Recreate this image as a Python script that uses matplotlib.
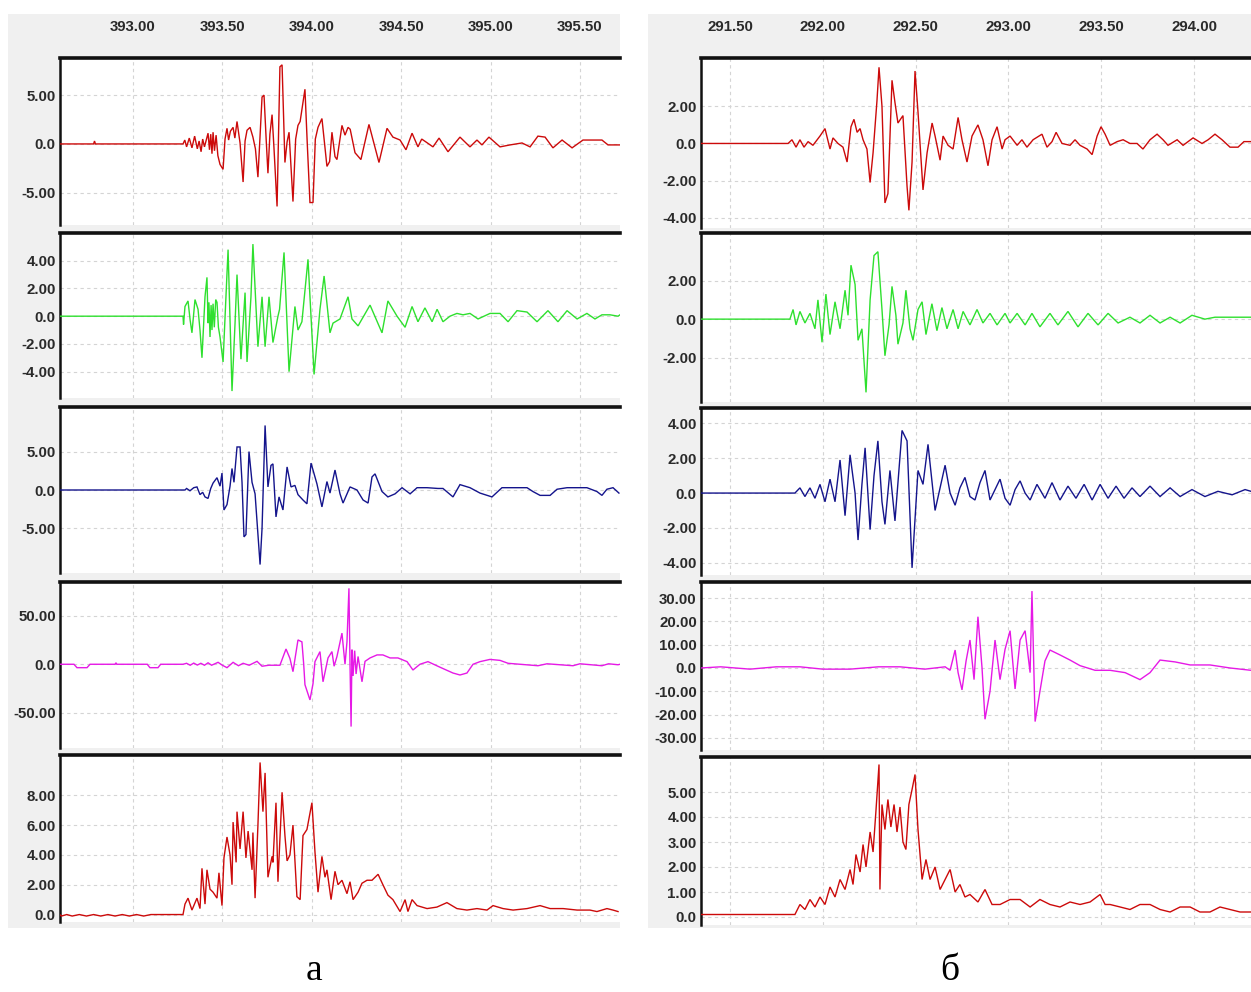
import matplotlib
matplotlib.use("Agg")
import matplotlib.pyplot as plt
from matplotlib.patches import Rectangle

# ---------------- data (time, amplitude) ----------------
# Left panel (a)
L1 = [(392.59,0),(392.78,0),(392.785,0.3),(392.79,0),(393.28,0),
(393.29,0.4),(393.30,-0.3),(393.315,0.6),(393.33,-0.4),(393.345,0.8),(393.36,-0.5),(393.37,0.3),(393.381,-0.8),(393.39,0.5),(393.40,-0.3),(393.42,1.1),(393.428,-0.6),(393.435,1.0),(393.442,-1.0),(393.448,1.2),(393.456,-0.7),(393.465,0.9),(393.475,-1.2),(393.487,-2.1),(393.504,-2.6),(393.515,0.5),(393.526,1.6),(393.535,0.4),(393.545,1.3),(393.560,1.7),(393.570,0.6),(393.582,2.3),(393.599,0.1),(393.616,-3.9),(393.627,0.3),(393.638,1.4),(393.655,1.7),(393.671,0.7),(393.685,-0.5),(393.699,-3.4),(393.710,0.5),(393.722,4.8),(393.733,5.0),(393.745,0.5),(393.755,-3.0),(393.766,1.0),(393.778,3.0),(393.789,-0.5),(393.806,-6.4),(393.822,7.9),(393.834,8.1),(393.850,-1.9),(393.862,0.2),(393.873,1.2),(393.895,-5.9),(393.910,0.5),(393.923,1.9),(393.935,2.3),(393.962,5.6),(393.975,0.0),(393.990,-6.0),(394.007,-6.0),(394.020,0.5),(394.035,1.7),(394.057,2.6),(394.085,-2.3),(394.100,-1.8),(394.113,1.2),(394.130,-1.3),(394.141,-1.6),(394.169,1.9),(394.186,0.9),(394.203,1.7),(394.215,1.5),(394.242,-0.9),(394.275,-1.6),(394.320,2.0),(394.376,-1.9),(394.421,1.6),(394.454,0.7),(394.494,0.4),(394.527,-0.6),(394.561,1.1),(394.594,-0.3),(394.615,0.5),(394.639,0.2),(394.678,-0.3),(394.712,0.6),(394.762,-0.8),(394.829,0.7),(394.885,-0.3),(394.924,0.4),(394.952,-0.1),(394.991,0.7),(395.053,-0.3),(395.109,-0.1),(395.176,0.1),(395.221,-0.3),(395.265,0.8),(395.305,0.7),(395.349,-0.4),(395.400,0.4),(395.456,-0.4),(395.517,0.4),(395.556,0.4),(395.623,0.4),(395.657,-0.1),(395.724,-0.1)]

L2 = [(392.59,0),(393.28,0),(393.283,-0.6),(393.291,0.7),(393.308,1.1),(393.320,-0.3),(393.330,-1.2),(393.347,1.2),(393.364,0.5),(393.375,-1.0),(393.386,-3.0),(393.403,1.4),(393.414,2.8),(393.420,-0.5),(393.425,1.0),(393.431,-1.5),(393.437,0.8),(393.442,-1.0),(393.448,0.9),(393.455,-0.8),(393.463,1.2),(393.470,1.0),(393.478,-0.8),(393.487,-1.5),(393.504,-3.3),(393.526,3.1),(393.532,4.8),(393.554,-5.4),(393.571,-0.5),(393.582,3.0),(393.604,-3.1),(393.627,1.7),(393.638,-3.3),(393.660,1.4),(393.671,5.2),(393.699,-2.2),(393.722,1.4),(393.739,-2.2),(393.761,1.4),(393.783,-1.9),(393.811,0.0),(393.820,0.5),(393.845,4.6),(393.873,-4.0),(393.906,0.7),(393.923,-1.0),(393.945,-0.4),(393.979,4.1),(394.013,-4.2),(394.046,0.5),(394.069,2.9),(394.102,-1.2),(394.119,-0.5),(394.158,-0.2),(394.203,1.4),(394.225,-0.2),(394.259,-0.7),(394.326,0.8),(394.393,-1.2),(394.426,1.1),(394.477,0.0),(394.522,-0.8),(394.561,0.7),(394.594,-0.4),(394.633,0.6),(394.673,-0.4),(394.701,0.5),(394.734,-0.4),(394.773,0.0),(394.812,0.2),(394.846,0.1),(394.885,0.2),(394.930,-0.2),(394.997,0.2),(395.053,0.2),(395.098,-0.4),(395.148,0.4),(395.204,0.3),(395.260,-0.4),(395.321,0.4),(395.377,-0.4),(395.428,0.4),(395.484,-0.2),(395.539,0.2),(395.584,-0.2),(395.623,0.1),(395.668,0.1),(395.713,0.0),(395.724,0.1)]

L3 = [(392.59,0),(393.291,0),(393.30,0.2),(393.319,-0.1),(393.340,0.3),(393.358,0.4),(393.375,-0.6),(393.390,-0.3),(393.403,-0.9),(393.420,-1.1),(393.435,0.2),(393.448,0.9),(393.470,1.6),(393.487,0.5),(393.498,2.2),(393.509,-2.6),(393.526,-1.9),(393.543,0.5),(393.554,2.8),(393.565,1.0),(393.582,5.6),(393.599,5.6),(393.610,1.0),(393.621,-6.1),(393.632,-5.8),(393.649,5.0),(393.666,1.0),(393.683,-0.5),(393.711,-9.7),(393.722,-5.0),(393.739,8.4),(393.755,0.4),(393.772,3.2),(393.783,3.4),(393.800,-3.5),(393.817,-0.9),(393.839,-2.6),(393.862,3.0),(393.884,0.4),(393.906,0.6),(393.923,-0.6),(393.951,-1.3),(393.973,-1.8),(393.996,3.5),(394.029,0.8),(394.057,-2.2),(394.085,1.1),(394.102,-0.4),(394.130,2.6),(394.158,-0.5),(394.175,-1.7),(394.214,0.4),(394.253,0.0),(394.287,-1.3),(394.315,-1.7),(394.337,1.7),(394.354,2.1),(394.393,-0.2),(394.426,-0.9),(394.466,-0.5),(394.505,0.3),(394.550,-0.5),(394.589,0.3),(394.645,0.3),(394.706,0.2),(394.734,0.2),(394.790,-0.9),(394.829,0.7),(394.885,0.3),(394.941,-0.4),(395.008,-0.9),(395.064,0.3),(395.148,0.3),(395.204,0.3),(395.237,-0.2),(395.277,-0.7),(395.333,-0.7),(395.372,0.1),(395.428,0.3),(395.539,0.3),(395.595,-0.2),(395.623,-0.7),(395.651,0.1),(395.685,0.3),(395.718,-0.4)]

L4 = [(392.59,0),(392.67,0),(392.687,-3.5),(392.743,-3.5),(392.76,0),(392.90,0),(392.905,1.5),(392.91,0),(393.08,0),(393.095,-3.5),(393.140,-3.5),(393.155,0),(393.28,0),(393.30,1.0),(393.32,-1.0),(393.34,1.2),(393.36,-0.8),(393.38,1.0),(393.40,-1.0),(393.42,1.5),(393.44,-1.0),(393.476,2.0),(393.500,-1.0),(393.526,-3.5),(393.560,2.0),(393.590,-1.5),(393.616,1.0),(393.650,-1.0),(393.694,3.0),(393.722,-2.0),(393.760,-1.0),(393.822,-1.0),(393.856,15.7),(393.878,6.0),(393.895,-7.6),(393.923,25),(393.945,23),(393.955,0),(393.962,-21),(393.990,-36.6),(394.007,-20),(394.018,2.7),(394.046,13),(394.063,-18),(394.091,6.5),(394.113,13),(394.125,-2),(394.141,8),(394.169,32),(394.186,0),(394.197,23),(394.208,78),(394.214,0),(394.220,-64),(394.225,15),(394.231,-12),(394.240,14),(394.248,-10),(394.259,8),(394.281,-18),(394.298,3),(394.326,6.5),(394.365,9.6),(394.398,9.6),(394.438,6.5),(394.482,6.5),(394.533,2.7),(394.566,-5.9),(394.605,0),(394.650,2.7),(394.717,-3),(394.790,-9),(394.829,-11),(394.868,-9),(394.902,0),(394.941,2.7),(394.997,5),(395.053,4),(395.098,1),(395.165,0),(395.265,-1.5),(395.316,0.5),(395.461,-1.5),(395.50,0.5),(395.623,-1.5),(395.66,0.5),(395.713,-0.5),(395.724,0)]

L5 = [(392.59,0),(392.60,-0.1),(392.63,0.0),(392.66,-0.1),(392.70,0.0),(392.74,-0.1),(392.78,0.0),(392.82,-0.1),(392.86,0.0),(392.90,-0.1),(392.94,0.0),(392.98,-0.1),(393.02,0.0),(393.06,-0.1),(393.10,0.0),(393.15,0.0),(393.28,0.0),(393.291,0.7),(393.308,1.1),(393.330,0.3),(393.358,1.1),(393.375,0.4),(393.386,3.1),(393.403,0.7),(393.414,3.0),(393.431,1.7),(393.448,1.5),(393.470,1.1),(393.481,2.8),(393.498,0.6),(393.509,3.8),(393.526,5.2),(393.543,4.0),(393.554,2.0),(393.560,6.2),(393.577,3.5),(393.582,6.9),(393.599,4.4),(393.616,6.9),(393.632,3.8),(393.644,5.6),(393.666,3.0),(393.671,5.5),(393.683,1.1),(393.699,6.0),(393.711,10.2),(393.727,6.9),(393.739,9.5),(393.755,2.5),(393.778,3.9),(393.783,3.5),(393.800,7.5),(393.811,2.2),(393.834,8.2),(393.850,5.3),(393.862,3.6),(393.878,4.0),(393.895,6.0),(393.917,1.2),(393.935,1.0),(393.951,5.3),(393.973,5.7),(394.001,7.5),(394.018,4.2),(394.035,1.5),(394.057,3.9),(394.074,2.5),(394.085,3.0),(394.108,1.0),(394.130,2.9),(394.147,2.0),(394.169,2.3),(394.197,1.4),(394.214,2.2),(394.231,1.0),(394.259,1.5),(394.281,2.1),(394.309,2.3),(394.337,2.3),(394.371,2.7),(394.398,2.0),(394.426,1.3),(394.454,1.0),(394.494,0.2),(394.522,1.0),(394.538,0.2),(394.561,1.0),(394.589,0.6),(394.645,0.4),(394.700,0.5),(394.756,0.8),(394.812,0.4),(394.868,0.3),(394.924,0.4),(394.980,0.3),(395.014,0.6),(395.070,0.4),(395.126,0.3),(395.204,0.4),(395.277,0.6),(395.333,0.4),(395.406,0.4),(395.484,0.3),(395.556,0.3),(395.595,0.2),(395.651,0.4),(395.685,0.3),(395.713,0.2)]

# Right panel (б)
R1 = [(291.344,0),(291.813,0),(291.834,0.2),(291.856,-0.2),(291.877,0.2),(291.899,-0.2),(291.921,0.1),(291.947,-0.1),(291.985,0.4),(292.012,0.8),(292.039,-0.3),(292.055,0.3),(292.082,0.0),(292.109,-0.2),(292.131,-1.0),(292.152,0.9),(292.168,1.3),(292.185,0.6),(292.201,0.8),(292.217,0.2),(292.238,-0.3),(292.255,-2.1),(292.271,-0.5),(292.292,2.3),(292.303,4.1),(292.319,2.0),(292.335,-3.2),(292.351,-2.7),(292.373,3.4),(292.389,2.2),(292.405,1.1),(292.432,1.5),(292.454,-2.3),(292.464,-3.6),(292.481,-1.0),(292.497,3.9),(292.513,1.7),(292.540,-2.5),(292.562,-0.5),(292.589,1.1),(292.605,0.4),(292.632,-0.9),(292.648,0.4),(292.675,-0.1),(292.702,-0.3),(292.729,1.4),(292.750,0.2),(292.777,-1.0),(292.804,0.4),(292.836,1.0),(292.863,0.2),(292.890,-1.2),(292.912,0.2),(292.939,0.9),(292.966,-0.3),(292.982,0.2),(293.009,0.4),(293.047,-0.1),(293.073,0.2),(293.100,-0.2),(293.133,0.2),(293.181,0.5),(293.208,-0.2),(293.235,0.1),(293.257,0.6),(293.289,0.0),(293.332,-0.1),(293.359,0.2),(293.386,-0.1),(293.424,-0.3),(293.451,-0.6),(293.478,0.4),(293.499,0.9),(293.521,0.5),(293.548,-0.1),(293.586,0.1),(293.618,0.2),(293.655,0.0),(293.693,0.0),(293.725,-0.3),(293.763,0.2),(293.801,0.5),(293.833,0.2),(293.860,-0.1),(293.909,0.2),(293.941,-0.1),(293.995,0.3),(294.043,0.0),(294.076,0.2),(294.113,0.5),(294.151,0.2),(294.194,-0.2),(294.237,-0.2),(294.269,0.1),(294.307,0.1)]

R2 = [(291.344,0),(291.823,0),(291.840,0.5),(291.856,-0.3),(291.877,0.4),(291.904,-0.2),(291.931,0.3),(291.958,-0.5),(291.974,1.0),(291.996,-1.2),(292.017,1.3),(292.039,-0.8),(292.066,0.9),(292.093,-0.5),(292.120,1.5),(292.136,0.2),(292.152,2.8),(292.174,1.8),(292.190,-1.1),(292.211,-0.5),(292.233,-3.8),(292.255,1.0),(292.276,3.3),(292.297,3.5),(292.319,0.5),(292.335,-1.9),(292.357,-0.3),(292.373,1.7),(292.394,0.2),(292.405,-1.3),(292.432,-0.2),(292.448,1.5),(292.470,-0.5),(292.486,-1.1),(292.513,0.5),(292.535,0.9),(292.556,-0.8),(292.588,0.8),(292.615,-0.6),(292.642,0.6),(292.669,-0.5),(292.702,0.5),(292.729,-0.5),(292.756,0.4),(292.793,-0.3),(292.831,0.5),(292.863,-0.2),(292.901,0.3),(292.939,-0.3),(292.982,0.3),(293.009,-0.2),(293.047,0.3),(293.090,-0.3),(293.127,0.3),(293.170,-0.4),(293.224,0.3),(293.267,-0.3),(293.321,0.4),(293.375,-0.4),(293.429,0.3),(293.483,-0.3),(293.537,0.3),(293.591,-0.2),(293.655,0.1),(293.709,-0.2),(293.763,0.2),(293.817,-0.2),(293.871,0.1),(293.925,-0.2),(293.989,0.2),(294.059,0.0),(294.113,0.1),(294.194,0.1),(294.307,0.1)]

R3 = [(291.344,0),(291.850,0),(291.877,0.3),(291.904,-0.2),(291.931,0.3),(291.958,-0.3),(291.985,0.5),(292.012,-0.5),(292.039,0.8),(292.066,-0.5),(292.093,1.9),(292.120,-1.3),(292.147,2.2),(292.174,0.0),(292.190,-2.7),(292.211,0.5),(292.228,2.6),(292.255,-2.1),(292.276,1.0),(292.297,3.0),(292.319,-0.5),(292.335,-1.8),(292.362,1.3),(292.389,-1.6),(292.427,3.6),(292.454,3.0),(292.481,-4.3),(292.513,1.3),(292.540,0.5),(292.567,2.8),(292.605,-1.0),(292.632,0.3),(292.659,1.6),(292.686,0.0),(292.713,-0.7),(292.739,0.3),(292.766,0.9),(292.793,-0.2),(292.820,-0.4),(292.847,0.6),(292.874,1.3),(292.901,-0.4),(292.928,0.2),(292.955,0.8),(292.982,-0.3),(293.009,-0.7),(293.036,0.2),(293.063,0.7),(293.090,0.0),(293.117,-0.4),(293.154,0.5),(293.197,-0.3),(293.235,0.6),(293.278,-0.4),(293.321,0.4),(293.364,-0.3),(293.408,0.5),(293.451,-0.4),(293.494,0.5),(293.537,-0.3),(293.580,0.4),(293.623,-0.3),(293.666,0.3),(293.709,-0.2),(293.763,0.4),(293.817,-0.2),(293.871,0.3),(293.925,-0.2),(293.989,0.2),(294.059,-0.2),(294.129,0.1),(294.205,-0.1),(294.275,0.2),(294.307,0.1)]

R4 = [(291.344,0),(291.45,0.5),(291.608,-0.5),(291.75,0.5),(291.877,0.5),(292.0,-0.5),(292.147,-0.5),(292.30,0.5),(292.416,0.5),(292.55,-0.5),(292.659,0.5),(292.686,-1),(292.713,7.7),(292.729,-2),(292.750,-9.4),(292.772,3),(292.793,12),(292.815,-5),(292.836,22),(292.858,0),(292.874,-22),(292.901,-10),(292.928,12),(292.955,-5),(292.982,8),(293.009,16),(293.036,-9),(293.063,12),(293.090,16),(293.117,-2),(293.127,33),(293.144,-23),(293.170,-10),(293.197,3),(293.224,7.7),(293.278,5.6),(293.332,3.4),(293.386,1),(293.467,-1),(293.548,-1),(293.629,-2),(293.709,-5),(293.763,-2),(293.817,3.4),(293.898,2.6),(293.979,1.3),(294.086,1.3),(294.194,0),(294.307,-1)]

R5 = [(291.344,0.1),(291.850,0.1),(291.877,0.5),(291.904,0.3),(291.931,0.7),(291.958,0.4),(291.985,0.8),(292.012,0.5),(292.039,1.2),(292.066,0.8),(292.093,1.5),(292.120,1.1),(292.147,1.9),(292.163,1.3),(292.179,2.5),(292.201,1.8),(292.217,2.9),(292.233,2.0),(292.255,3.4),(292.271,2.6),(292.287,4.3),(292.303,6.1),(292.308,1.1),(292.319,4.5),(292.335,3.5),(292.351,4.7),(292.367,3.6),(292.384,4.5),(292.400,3.4),(292.416,4.4),(292.432,3.0),(292.448,2.7),(292.464,4.5),(292.481,5.1),(292.497,5.7),(292.513,3.5),(292.535,1.5),(292.556,2.3),(292.578,1.5),(292.605,2.0),(292.632,1.1),(292.659,1.5),(292.686,1.9),(292.713,1.0),(292.739,1.3),(292.766,0.8),(292.793,0.9),(292.836,0.6),(292.874,1.1),(292.912,0.5),(292.955,0.5),(293.009,0.7),(293.063,0.7),(293.117,0.4),(293.170,0.7),(293.224,0.5),(293.278,0.4),(293.332,0.6),(293.386,0.5),(293.440,0.6),(293.494,0.9),(293.521,0.5),(293.548,0.5),(293.602,0.4),(293.655,0.3),(293.709,0.5),(293.763,0.5),(293.817,0.3),(293.871,0.2),(293.925,0.4),(293.979,0.4),(294.032,0.2),(294.086,0.2),(294.140,0.4),(294.194,0.3),(294.248,0.2),(294.307,0.2)]

LEFT_XTICKS = [393.0, 393.5, 394.0, 394.5, 395.0, 395.5]
RIGHT_XTICKS = [291.5, 292.0, 292.5, 293.0, 293.5, 294.0]

LEFT_YTICKS = [[-5, 0, 5], [-4, -2, 0, 2, 4], [-5, 0, 5], [-50, 0, 50], [0, 2, 4, 6, 8]]
RIGHT_YTICKS = [[-4, -2, 0, 2], [-2, 0, 2], [-4, -2, 0, 2, 4],
                [-30, -20, -10, 0, 10, 20, 30], [0, 1, 2, 3, 4, 5]]
LEFT_YLIM = [(-8.3, 8.8), (-5.9, 6.0), (-10.8, 10.8), (-86, 84.5), (-0.5, 10.7)]
RIGHT_YLIM = [(-4.55, 4.6), (-4.3, 4.47), (-4.71, 4.89), (-35.2, 36.9), (-0.32, 6.4)]
LEFT_XLIM = (392.592, 395.724)
RIGHT_XLIM = (291.344, 294.307)

COLORS = ['#cc0a0a', '#2ee02e', '#14148c', '#e619e6', '#cc0a0a']
CAPTIONS = ['а', 'б']

# ---------------- layout ----------------
W, H = 1251, 992
fig = plt.figure(figsize=(W / 100, H / 100), dpi=100)
fig.patch.set_facecolor('white')


def fx(px):
    return px / W


def fy(py):
    return 1 - py / H


for (x0, y0, x1, y1) in [(8, 14, 620, 928), (648, 14, 1251, 928)]:
    fig.patches.append(Rectangle((fx(x0), fy(y1)), fx(x1) - fx(x0), fy(y0) - fy(y1),
                                 transform=fig.transFigure, facecolor='#f0f0f0',
                                 edgecolor='none', zorder=0))

left_rows = [(58, 225), (233, 398), (407, 573), (582, 748), (755, 922)]
right_rows = [(58, 228), (233, 402), (408, 575), (582, 750), (757, 925)]

TICK_FONT = dict(family='Liberation Sans', weight='bold', size=10.8)


def fmt(v):
    return '0.0' if v == 0 else f'{v:.2f}'


def make_panel(x0, x1, rows, traces, xlim, xticks, ylims, yticks_list):
    for i, ((y0, y1), tr, ylim, yt) in enumerate(zip(rows, traces, ylims, yticks_list)):
        ax = fig.add_axes([fx(x0), fy(y1), fx(x1) - fx(x0), fy(y0) - fy(y1)], zorder=2)
        ax.set_facecolor('white')
        t = [p[0] for p in tr]
        v = [p[1] for p in tr]
        ax.plot(t, v, color=COLORS[i], lw=1.0, solid_joinstyle='miter', zorder=3)
        ax.set_xlim(*xlim)
        ax.set_ylim(*ylim)
        ax.set_xticks(xticks)
        ax.set_yticks(yt)
        ax.set_yticklabels([fmt(y) for y in yt], fontdict=TICK_FONT, color='#2a2a2a')
        for s in ['right', 'bottom']:
            ax.spines[s].set_visible(False)
        ax.spines['top'].set_linewidth(2.6)
        ax.spines['left'].set_linewidth(1.8)
        ax.spines['top'].set_color('#111111')
        ax.spines['left'].set_color('#111111')
        ax.tick_params(axis='both', length=0)
        ax.tick_params(axis='y', pad=3)
        ax.grid(True, which='major', linestyle=(0, (3, 3)), color='#d4d4d4', lw=0.8, zorder=1)
        ax.set_axisbelow(True)
        if i == 0:
            ax.xaxis.tick_top()
            ax.tick_params(axis='x', labeltop=True, labelbottom=False, pad=17)
            ax.set_xticklabels([f'{x:.2f}' for x in xticks], fontdict=TICK_FONT, color='#2a2a2a')
        else:
            ax.tick_params(axis='x', labeltop=False, labelbottom=False)


make_panel(60, 620, left_rows, [L1, L2, L3, L4, L5], LEFT_XLIM, LEFT_XTICKS, LEFT_YLIM, LEFT_YTICKS)
make_panel(701, 1251, right_rows, [R1, R2, R3, R4, R5], RIGHT_XLIM, RIGHT_XTICKS, RIGHT_YLIM, RIGHT_YTICKS)

fig.text(fx(314), fy(980), CAPTIONS[0], family='Liberation Serif', fontsize=27,
         ha='center', va='baseline')
fig.text(fx(950), fy(980), CAPTIONS[1], family='Liberation Serif', fontsize=27,
         ha='center', va='baseline')

fig.savefig('out.png', dpi=100, facecolor='white')
